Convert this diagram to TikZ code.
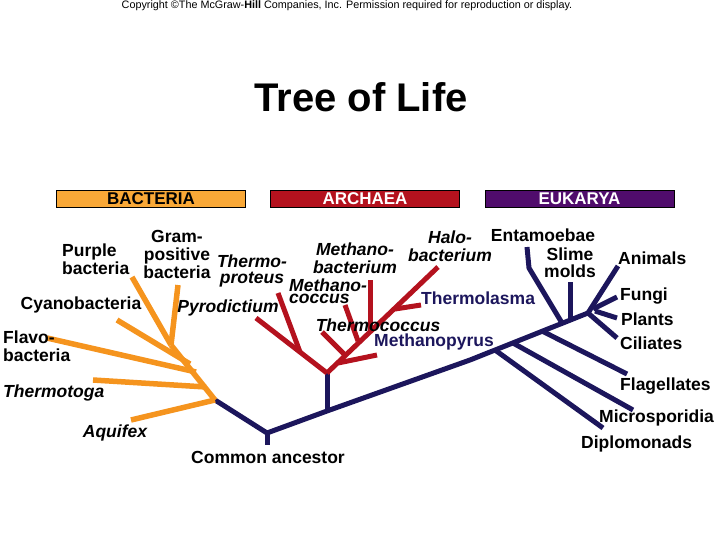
\documentclass[tikz,border=0pt]{standalone}
\usepackage{fontspec}
\setmainfont{Liberation Sans}
\usepackage{xcolor}
\usetikzlibrary{positioning}

\definecolor{bactorange}{RGB}{245,148,30}
\definecolor{bandorange}{RGB}{249,168,55}
\definecolor{archred}{RGB}{180,18,30}
\definecolor{eukpurple}{RGB}{80,12,108}
\definecolor{treenavy}{RGB}{28,22,92}

\begin{document}
\begin{tikzpicture}[x=1pt,y=-1pt,
    lbl/.style={font=\fontsize{17.5}{18}\selectfont\bfseries, align=center, inner sep=0pt},
    ilbl/.style={lbl, font=\fontsize{17.5}{18}\selectfont\bfseries\itshape},
    band/.style={draw=black, line width=0.6pt, minimum width=189pt, minimum height=17pt,
        inner sep=0pt, font=\fontsize{17}{17}\selectfont\bfseries},
    bact/.style={line width=5.5pt, bactorange},
    arch/.style={line width=5pt, archred},
    euk/.style={line width=5pt, treenavy, line join=round}]
    \useasboundingbox (0,0) rectangle (720,540);

    % heading
    \node[inner sep=0pt, font=\fontsize{10.8}{12}\selectfont] (copyright) at (347,6)
        {Copyright \textcopyright The McGraw-\textbf{Hill} Companies, Inc. Permission required for reproduction or display.};
    \node[inner sep=0pt, font=\fontsize{40}{40}\selectfont\bfseries] (title) at (361,97) {Tree of Life};

    % domain bands
    \node[band, fill=bandorange] (bacteria) at (151,198.5) {BACTERIA};
    \node[band, fill=archred, text=white] (archaea) at (365,198.5) {ARCHAEA};
    \node[band, fill=eukpurple, text=white] (eukarya) at (579.5,198.5) {EUKARYA};

    % main trunk
    \coordinate (broot) at (215,400);
    \coordinate (ancestor) at (267,433);
    \coordinate (ancstub) at (267,445);
    \coordinate (aroot) at (327,411);
    \coordinate (anode) at (327,373);
    \coordinate (e0) at (470,360);
    \coordinate (ediplo) at (495,350);
    \coordinate (emicro) at (513,343);
    \coordinate (eflag) at (542,331);
    \coordinate (eenta) at (562,323);
    \coordinate (eslime) at (570,320);
    \coordinate (ecrown) at (588,313);
    \draw[euk] (broot) -- (ancestor) -- (aroot) -- (e0) -- (ecrown);
    \draw[euk] (ancestor) -- (ancstub);
    \draw[euk] (aroot) -- (anode);

    % bacteria
    \coordinate (btop) at (171,345);
    \coordinate (bcyano) at (190,364);
    \coordinate (bflavo) at (196,372);
    \coordinate (btoga) at (206,387);
    \coordinate (tpurple) at (132,277);
    \coordinate (tgram) at (178,285);
    \coordinate (tcyano) at (117,320);
    \coordinate (tflavo) at (47,338);
    \coordinate (ttoga) at (93,380);
    \coordinate (taquifex) at (131,420);
    \draw[bact] (broot) -- (btop);
    \draw[bact] (btop) -- (tpurple);
    \draw[bact] (btop) -- (tgram);
    \draw[bact] (bcyano) -- (tcyano);
    \draw[bact] (bflavo) -- (tflavo);
    \draw[bact] (btoga) -- (ttoga);
    \draw[bact] (broot) -- (taquifex);

    % archaea
    \coordinate (apyro) at (256,318);
    \coordinate (athproj) at (300,352);
    \coordinate (athpro) at (278,293);
    \coordinate (ahalo) at (438,267);
    \coordinate (amplj) at (338,363);
    \coordinate (ampl) at (377,355);
    \coordinate (atcj) at (345,355);
    \coordinate (atc) at (322,332);
    \coordinate (amcj) at (358,341);
    \coordinate (amc) at (345,305);
    \coordinate (ambj) at (370,332);
    \coordinate (amb) at (370,280);
    \coordinate (atlj) at (395,309);
    \coordinate (atl) at (421,305);
    \draw[arch] (anode) -- (apyro);
    \draw[arch] (athproj) -- (athpro);
    \draw[arch] (anode) -- (ahalo);
    \draw[arch] (amplj) -- (ampl);
    \draw[arch] (atcj) -- (atc);
    \draw[arch] (amcj) -- (amc);
    \draw[arch] (ambj) -- (amb);
    \draw[arch] (atlj) -- (atl);

    % eukarya
    \draw[euk] (ediplo) -- (603,428);
    \draw[euk] (emicro) -- (633,410);
    \draw[euk] (eflag) -- (627,374);
    \draw[euk] (eenta) -- (529,268) -- (527,247);
    \draw[euk] (eslime) -- (570,282);
    \draw[euk] (ecrown) -- (618,266);
    \draw[euk] (593,309) -- (617,297);
    \draw[euk] (595,311) -- (617,318);
    \draw[euk] (ecrown) -- (617,338);

    % bacteria labels
    \node[lbl, align=left, anchor=west] (purple) at (62,259) {Purple\\bacteria};
    \node[lbl] (gram) at (177,254) {Gram-\\positive\\bacteria};
    \node[lbl] (cyano) at (81,305) {Cyanobacteria};
    \node[lbl, align=left, anchor=west] (flavo) at (3,346) {Flavo-\\bacteria};
    \node[ilbl, anchor=west] (thermotoga) at (3,393) {Thermotoga};
    \node[ilbl] (aquifex) at (115,433) {Aquifex};
    \node[lbl] (common) at (268,457) {Common ancestor};

    % archaea labels
    \node[ilbl, font=\fontsize{17.5}{16}\selectfont\bfseries\itshape] (thermoproteus) at (252,271) {Thermo-\\proteus};
    \node[ilbl] (pyrodictium) at (228,308) {Pyrodictium};
    \node[ilbl] (methanobact) at (355,258) {Methano-\\bacterium};
    \node[ilbl, align=left, anchor=west, font=\fontsize{17.5}{12}\selectfont\bfseries\itshape] (methanococc) at (289,291) {Methano-\\coccus};
    \node[ilbl] (halobact) at (450,246) {Halo-\\bacterium};
    \node[lbl, treenavy, anchor=west] (thermolasma) at (421,298) {Thermolasma};
    \node[ilbl] (thermococc) at (378,325) {Thermococcus};
    \node[lbl, treenavy] (methanopyrus) at (434,342) {Methanopyrus};

    % eukarya labels
    \node[lbl] (entamoebae) at (543,235) {Entamoebae};
    \node[lbl, font=\fontsize{17.5}{17}\selectfont\bfseries] (slime) at (570,263) {Slime\\molds};
    \node[lbl, anchor=west] (animals) at (618,258) {Animals};
    \node[lbl, anchor=west] (fungi) at (620,296) {Fungi};
    \node[lbl, anchor=west] (plants) at (621,319) {Plants};
    \node[lbl, anchor=west] (ciliates) at (620,343) {Ciliates};
    \node[lbl, anchor=west] (flagellates) at (620,386) {Flagellates};
    \node[lbl, anchor=west] (microspor) at (599,418) {Microsporidia};
    \node[lbl, anchor=west] (diplomonads) at (581,444) {Diplomonads};
\end{tikzpicture}
\end{document}
